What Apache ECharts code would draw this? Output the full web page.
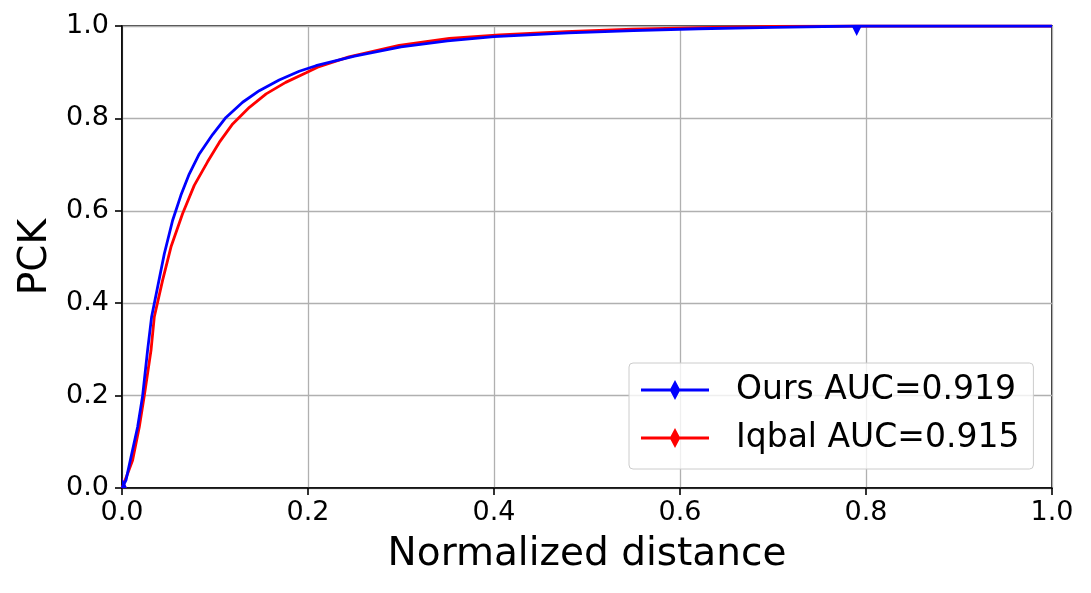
<!DOCTYPE html>
<html>
<head>
<meta charset="utf-8">
<script src="https://cdn.jsdelivr.net/npm/echarts@6/dist/echarts.min.js"></script>
<style>
  html, body { margin: 0; padding: 0; background: #ffffff; }
  #chart { width: 1091px; height: 593px; }
</style>
</head>
<body>
<div id="chart"></div>
<script>
  // curve samples
  var oursX  = [0, 0.0043, 0.0097, 0.0168, 0.0222, 0.0275, 0.0318, 0.0383, 0.0455, 0.0544, 0.0634, 0.0724, 0.0831, 0.0974, 0.1118, 0.1297, 0.1476, 0.169, 0.1906, 0.2086, 0.25, 0.30, 0.35, 0.40, 0.48, 0.55, 0.62, 0.70, 0.79, 0.85, 0.95, 1.0];
  var oursY  = [0, 0.017, 0.067, 0.132, 0.200, 0.298, 0.370, 0.435, 0.507, 0.579, 0.634, 0.680, 0.723, 0.765, 0.802, 0.835, 0.860, 0.883, 0.902, 0.914, 0.935, 0.955, 0.968, 0.977, 0.985, 0.990, 0.994, 0.997, 1.0, 1.0, 1.0, 1.0];
  var iqbalX = [0, 0.006, 0.0114, 0.0186, 0.024, 0.0312, 0.0347, 0.0437, 0.0527, 0.0652, 0.0777, 0.092, 0.1046, 0.119, 0.137, 0.155, 0.176, 0.198, 0.2103, 0.244, 0.298, 0.352, 0.406, 0.477, 0.549, 0.621, 0.70, 0.79, 1.0];
  var iqbalY = [0, 0.031, 0.060, 0.132, 0.200, 0.298, 0.370, 0.450, 0.522, 0.594, 0.655, 0.706, 0.748, 0.788, 0.824, 0.853, 0.878, 0.899, 0.911, 0.933, 0.958, 0.973, 0.981, 0.988, 0.993, 0.9965, 0.999, 1.0, 1.0];
  var names  = ['Ours AUC=0.919', 'Iqbal AUC=0.915'];
  // x positions that carry a marker (markevery)
  var oursMarkX  = [0, 0.79];
  var iqbalMarkX = [0];

  var font = 'DejaVu Sans';
  // marker only partly visible at the plot edges
  var cornerMark = 'path://M0,0 L5,10 L0,10 Z';
  var topMark = 'path://M0,0 L10,0 L5,10 Z';

  function buildData(xs, ys, markX) {
    return xs.map(function (x, i) {
      var item = { value: [x, ys[i]], symbol: 'none' };
      if (markX.indexOf(x) >= 0) {
        if (ys[i] === 0) {
          item.symbol = cornerMark;
          item.symbolSize = [5, 10];
          item.symbolOffset = [2.5, -5];
        } else {
          item.symbol = topMark;
          item.symbolSize = [10, 10];
          item.symbolOffset = [0, 5];
        }
      }
      return item;
    });
  }

  var legendIcon = 'path://M0,8.6 L29.5,8.6 L34,0 L38.5,8.6 L68,8.6 L68,11.4 L38.5,11.4 L34,20 L29.5,11.4 L0,11.4 Z';

  var chart = echarts.init(document.getElementById('chart'));
  var option = {
    animation: false,
    backgroundColor: '#ffffff',
    textStyle: { fontFamily: font },
    grid: {
      left: 122, right: 39, top: 26, bottom: 105,
      show: true, borderColor: '#000000', borderWidth: 1.6, backgroundColor: 'transparent'
    },
    legend: {
      left: 629, top: 363,
      orient: 'vertical',
      padding: [7, 14, 11, 12],
      itemGap: 8,
      itemWidth: 68, itemHeight: 20,
      borderColor: '#cccccc', borderWidth: 1, borderRadius: 4,
      backgroundColor: 'rgba(255,255,255,0.8)',
      textStyle: { fontFamily: font, fontSize: 33, color: '#000000', lineHeight: 40, padding: [0, 0, 0, 22] },
      data: [
        { name: names[0], icon: legendIcon },
        { name: names[1], icon: legendIcon }
      ]
    },
    xAxis: {
      type: 'value', min: 0, max: 1, interval: 0.2,
      name: 'Normalized distance', nameLocation: 'middle', nameGap: 47,
      nameTextStyle: { fontFamily: font, fontSize: 39, color: '#000000' },
      axisLine: { lineStyle: { color: '#000000', width: 1.6 } },
      axisTick: { show: true, length: 7, lineStyle: { color: '#000000', width: 1.6 } },
      axisLabel: { fontFamily: font, fontSize: 27, color: '#000000', margin: 11,
        formatter: function (v) { return v.toFixed(1); } },
      splitLine: { show: true, lineStyle: { color: '#b0b0b0', width: 1.3 } }
    },
    yAxis: {
      type: 'value', min: 0, max: 1, interval: 0.2,
      name: 'PCK', nameLocation: 'middle', nameGap: 67,
      nameTextStyle: { fontFamily: font, fontSize: 39, color: '#000000' },
      axisLine: { show: true, lineStyle: { color: '#000000', width: 1.6 } },
      axisTick: { show: true, length: 7, lineStyle: { color: '#000000', width: 1.6 } },
      axisLabel: { fontFamily: font, fontSize: 27, color: '#000000', margin: 13,
        formatter: function (v) { return v.toFixed(1); } },
      splitLine: { show: true, lineStyle: { color: '#b0b0b0', width: 1.3 } }
    },
    series: [
      {
        name: names[0], type: 'line',
        data: buildData(oursX, oursY, oursMarkX),
        symbol: 'diamond', symbolSize: [10, 20], showSymbol: true,
        color: '#0000ff',
        lineStyle: { color: '#0000ff', width: 2.8 },
        itemStyle: { color: '#0000ff' },
        z: 3
      },
      {
        name: names[1], type: 'line',
        data: buildData(iqbalX, iqbalY, iqbalMarkX),
        symbol: 'diamond', symbolSize: [10, 20], showSymbol: true,
        color: '#ff0000',
        lineStyle: { color: '#ff0000', width: 2.8 },
        itemStyle: { color: '#ff0000' },
        z: 2
      }
    ]
  };
  chart.setOption(option);
</script>
</body>
</html>
